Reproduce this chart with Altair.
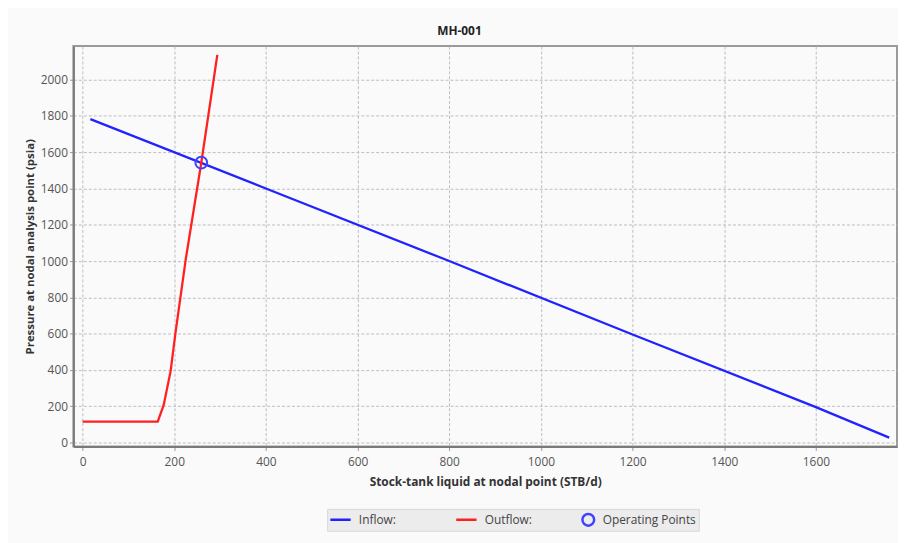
import altair as alt
import pandas as pd

# ---- data ----
inflow_x = [17, 400, 800, 1200, 1600, 1760]
inflow_y = [1782, 1400, 1000, 595, 195, 27]

outflow_x = [0, 164, 177, 192, 203, 225, 259, 294]
outflow_y = [115, 115, 207, 392, 610, 1008, 1542, 2136]

op_x = [259]
op_y = [1542]

x_ticks = [0, 200, 400, 600, 800, 1000, 1200, 1400, 1600]
y_ticks = [0, 200, 400, 600, 800, 1000, 1200, 1400, 1600, 1800, 2000]

series_names = ["Inflow:", "Outflow:", "Operating Points"]
series_colors = ["#2222ff", "#ff2020", "#4040ff"]
series_shapes = ["stroke", "stroke", "circle"]
series_sizes = [420, 420, 140]

lines = pd.DataFrame(
    {"x": inflow_x + outflow_x,
     "y": inflow_y + outflow_y,
     "series": ["Inflow:"] * len(inflow_x) + ["Outflow:"] * len(outflow_x),
     "order": list(range(len(inflow_x))) + list(range(len(outflow_x)))}
)
ops = pd.DataFrame({"x": op_x, "y": op_y, "series": ["Operating Points"] * len(op_x)})

FONT = "Open Sans"

xscale = alt.Scale(domain=[-20, 1777], nice=False, zero=False)
yscale = alt.Scale(domain=[-22, 2185], nice=False, zero=False)

xaxis = alt.Axis(
    title="Stock-tank liquid at nodal point (STB/d)", format="d",
    values=x_ticks, grid=True, gridDash=[3, 2], gridColor="#bdbdbd", gridWidth=1,
    domainColor="#7a7a7a", domainWidth=2, tickColor="#999999", tickSize=4,
    labelFont=FONT, labelFontSize=12, labelColor="#555555", labelPadding=6,
    titleFont=FONT, titleFontSize=12, titleFontWeight="bold", titleColor="#333333",
    titlePadding=9,
)
yaxis = alt.Axis(
    title="Pressure at nodal analysis point (psia)", format="d",
    values=y_ticks, grid=True, gridDash=[3, 2], gridColor="#bdbdbd", gridWidth=1,
    domainColor="#7a7a7a", domainWidth=2, tickColor="#999999", tickSize=4,
    labelFont=FONT, labelFontSize=12, labelColor="#555555", labelPadding=2,
    titleFont=FONT, titleFontSize=11.5, titleFontWeight="bold", titleColor="#333333",
    titlePadding=5,
)

color_scale = alt.Scale(domain=series_names, range=series_colors)
shape_scale = alt.Scale(domain=series_names, range=series_shapes)
size_scale = alt.Scale(type="ordinal", domain=series_names, range=series_sizes)


def make_legend():
    return alt.Legend(
        title=None, orient="none", legendX=256, legendY=467, direction="horizontal",
        symbolStrokeWidth=2.5, symbolFillColor="transparent", clipHeight=18,
        labelFont=FONT, labelFontSize=12, labelColor="#444444", labelOffset=7,
        columnPadding=10, padding=2, fillColor="#ececec", strokeColor="#d8d8d8",
        gridAlign="all",
    )


line_layer = alt.Chart(lines).mark_line(strokeWidth=2.3).encode(
    x=alt.X("x:Q", scale=xscale, axis=xaxis),
    y=alt.Y("y:Q", scale=yscale, axis=yaxis),
    color=alt.Color("series:N", scale=color_scale, legend=make_legend()),
    order="order:Q",
)

point_layer = alt.Chart(ops).mark_point(filled=False, strokeWidth=2, opacity=1).encode(
    x=alt.X("x:Q", scale=xscale),
    y=alt.Y("y:Q", scale=yscale),
    color=alt.Color("series:N", scale=color_scale, legend=make_legend()),
    shape=alt.Shape("series:N", scale=shape_scale, legend=make_legend()),
    size=alt.Size("series:N", scale=size_scale, legend=make_legend()),
)

chart = alt.layer(line_layer, point_layer).properties(
    width=831, height=404,
    title=alt.TitleParams("MH-001", font=FONT, fontSize=12, fontWeight="bold",
                          color="#222222", anchor="middle", dx=-26, offset=8),
    autosize=alt.AutoSizeParams(type="none"),
    padding={"left": 66, "top": 36, "right": 1, "bottom": 95},
    background="#fafafa",
).configure_view(stroke="#9a9a9a", strokeWidth=2)

chart.save("out.html", embed_options={"renderer": "svg", "actions": False})
